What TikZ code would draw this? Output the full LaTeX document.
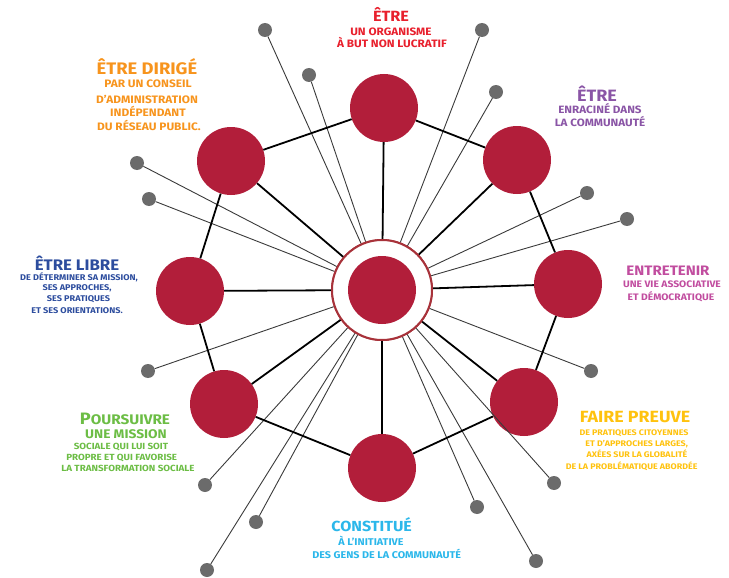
\documentclass[tikz,border=0pt]{standalone}
\usepackage{fontspec}
\newfontfamily\lab[FakeStretch=1.1]{Fira Sans}
\newcommand\fs[1]{\lab\bfseries\fontsize{#1}{#1}\selectfont}
\definecolor{crim}{HTML}{B21E3A}
\definecolor{ringc}{HTML}{A8323A}
\definecolor{dotg}{HTML}{6B6B6B}
\definecolor{thinc}{HTML}{3A3A3A}
\definecolor{cRed}{HTML}{E8202D}
\definecolor{cOrange}{HTML}{F7941D}
\definecolor{cPurple}{HTML}{8A55A6}
\definecolor{cBlue}{HTML}{2D4D9E}
\definecolor{cMag}{HTML}{C14D9F}
\definecolor{cGreen}{HTML}{6CBD45}
\definecolor{cYellow}{HTML}{FFC20E}
\definecolor{cCyan}{HTML}{2BB7EA}
\begin{document}
\begin{tikzpicture}[x=1pt,y=-1pt,
  bigc/.style={circle,fill=crim,minimum size=68pt,inner sep=0},
  dotn/.style={circle,fill=dotg,minimum size=14pt,inner sep=0},
  ringn/.style={circle,draw=ringc,line width=2pt,fill=white,minimum size=100pt,inner sep=0},
  thickl/.style={line width=1.8pt,black},
  thinl/.style={line width=0.9pt,thinc},
  tx/.style={inner sep=0,anchor=base}]
\useasboundingbox (0,0) rectangle (729,578);
% outer circles
\node[bigc] (c1) at (384,108) {};
\node[bigc] (c2) at (517,160) {};
\node[bigc] (c3) at (568,284) {};
\node[bigc] (c4) at (524,402) {};
\node[bigc] (c5) at (382,468) {};
\node[bigc] (c6) at (224,404) {};
\node[bigc] (c7) at (190,291) {};
\node[bigc] (c8) at (231,161) {};
% center
\node[ringn] (cen) at (382,290) {};
% dots
\node[dotn] (d1) at (265,30) {};
\node[dotn] (d2) at (309,75) {};
\node[dotn] (d3) at (482,30) {};
\node[dotn] (d4) at (496,92) {};
\node[dotn] (d5) at (137,163) {};
\node[dotn] (d6) at (149,199) {};
\node[dotn] (d7) at (148,371) {};
\node[dotn] (d8) at (587,193) {};
\node[dotn] (d9) at (627,219) {};
\node[dotn] (d10) at (591,371) {};
\node[dotn] (d11) at (205,485) {};
\node[dotn] (d12) at (256,522) {};
\node[dotn] (d13) at (207,570) {};
\node[dotn] (d14) at (554,483) {};
\node[dotn] (d15) at (477,507) {};
\node[dotn] (d16) at (536,561) {};
% thin lines
\foreach \i in {1,...,16}{\draw[thinl] (d\i) -- (cen);}
% spokes and octagon
\foreach \i in {1,...,8}{\draw[thickl] (cen) -- (c\i);}
\draw[thickl] (c1)--(c2); \draw[thickl] (c2)--(c3); \draw[thickl] (c3)--(c4);
\draw[thickl] (c4)--(c5); \draw[thickl] (c5)--(c6); \draw[thickl] (c6)--(c7);
\draw[thickl] (c7)--(c8); \draw[thickl] (c8)--(c1);
% redraw center on top
\node[ringn] (cen2) at (cen) {};
\node[bigc] (cin) at (cen) {};
% texts
\begin{scope}[text=cRed]
\node[tx,font=\fs{14.8}] (t1) at (391,22) {ÊTRE};
\node[tx,font=\fs{10.7}] (t1a) at (391,36) {UN ORGANISME};
\node[tx,font=\fs{10.7}] (t1b) at (392,47.5) {À BUT NON LUCRATIF};
\end{scope}
\begin{scope}[text=cOrange]
\node[tx,font=\fs{16.7}] (t2) at (147,75) {ÊTRE DIRIGÉ};
\node[tx,font=\fs{10.8}] (t2a) at (148,88) {PAR UN CONSEIL};
\node[tx,font=\fs{10.8}] (t2b) at (147,103) {D’ADMINISTRATION};
\node[tx,font=\fs{10.8}] (t2c) at (148,116.5) {INDÉPENDANT};
\node[tx,font=\fs{10.8}] (t2d) at (149,130) {DU RÉSEAU PUBLIC.};
\end{scope}
\begin{scope}[text=cPurple]
\node[tx,font=\fs{16.4}] (t3) at (597,101.7) {ÊTRE};
\node[tx,font=\fs{10.6}] (t3a) at (600,113.5) {ENRACINÉ DANS};
\node[tx,font=\fs{10.6}] (t3b) at (600,126.5) {LA COMMUNAUTÉ};
\end{scope}
\begin{scope}[text=cBlue]
\node[tx,font=\fs{15.3}] (t4) at (77,270) {ÊTRE LIBRE};
\node[tx,font=\fs{8.3}] (t4a) at (79,280.5) {DE DÉTERMINER SA MISSION,};
\node[tx,font=\fs{8.3}] (t4b) at (77,290.5) {SES APPROCHES,};
\node[tx,font=\fs{8.3}] (t4c) at (78.5,301.7) {SES PRATIQUES};
\node[tx,font=\fs{8.3}] (t4d) at (77,313.3) {ET SES ORIENTATIONS.};
\end{scope}
\begin{scope}[text=cMag]
\node[tx,font=\fs{13.7}] (t5) at (668,275) {ENTRETENIR};
\node[tx,font=\fs{9.4}] (t5a) at (672,287) {UNE VIE ASSOCIATIVE};
\node[tx,font=\fs{9.4}] (t5b) at (671,300) {ET DÉMOCRATIQUE};
\end{scope}
\begin{scope}[text=cGreen]
\node[tx,font=\fs{13.9}] (t6) at (125,424) {{\fontsize{16.5}{16.5}\selectfont P}OURSUIVRE};
\node[tx,font=\fs{12.5}] (t6x) at (126,438.5) {UNE MISSION};
\node[tx,font=\fs{8.9}] (t6a) at (121,449.3) {SOCIALE QUI LUI SOIT};
\node[tx,font=\fs{8.9}] (t6b) at (121.7,460.5) {PROPRE ET QUI FAVORISE};
\node[tx,font=\fs{8.9}] (t6c) at (128,471.7) {LA TRANSFORMATION SOCIALE};
\end{scope}
\begin{scope}[text=cYellow]
\node[tx,font=\fs{16.2}] (t7) at (635,422) {FAIRE PREUVE};
\node[tx,font=\fs{8.1}] (t7a) at (634,435) {DE PRATIQUES CITOYENNES};
\node[tx,font=\fs{8.1}] (t7b) at (636.7,446.7) {ET D’APPROCHES LARGES,};
\node[tx,font=\fs{8.1}] (t7c) at (637,457.3) {AXÉES SUR LA GLOBALITÉ};
\node[tx,font=\fs{8.1}] (t7d) at (631.7,469.3) {DE LA PROBLÉMATIQUE ABORDÉE};
\end{scope}
\begin{scope}[text=cCyan]
\node[tx,font=\fs{14.6}] (t8) at (371.7,531.7) {CONSTITUÉ};
\node[tx,font=\fs{9.8}] (t8a) at (371,545) {À L’INITIATIVE};
\node[tx,font=\fs{9.8}] (t8b) at (386.7,558.3) {DES GENS DE LA COMMUNAUTÉ};
\end{scope}
\end{tikzpicture}
\end{document}
